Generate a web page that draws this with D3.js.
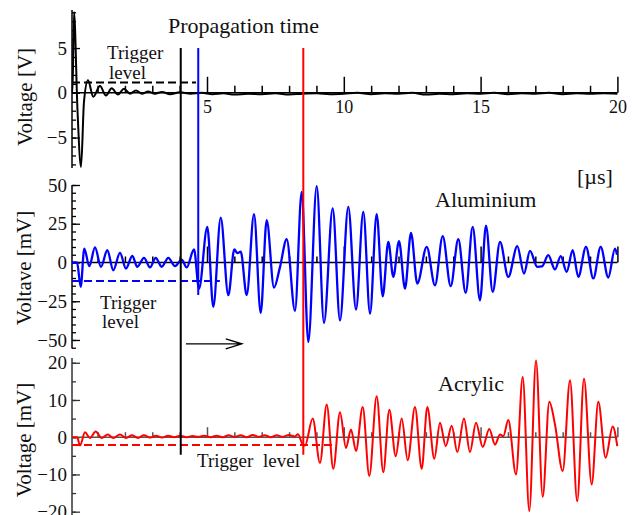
<!DOCTYPE html>
<html><head><meta charset="utf-8">
<script src="https://cdn.jsdelivr.net/npm/d3@7"></script>
<style>
html,body{margin:0;padding:0;background:#fff;}
svg{display:block;font-family:"Liberation Serif","Times New Roman",serif;}
</style></head>
<body>
<svg id="c" width="639" height="515"></svg>
<script>
// ---------- data ----------
// Trigger pulse (top panel), time [µs] and voltage [V]
const trigTime = [0.07,0.084,0.139,0.267,0.395,0.504,0.65,0.844,1.089,1.308,1.517,1.747,1.966,2.186,2.405,2.625,2.844,3.099,3.355,3.648,4.013,4.4,4.8,5.2,5.6,6.0,6.5,7.0,7.5,8.0,8.5,9.0,9.5,10,10.5,11,11.5,12,12.5,13,13.5,14,14.5,15,15.5,16,16.5,17,17.5,18,18.5,19,19.5,20];
const trigVolt = [0,0,9,-2,-8.3,-1,1.4,-0.45,0.75,-0.3,0.5,-0.2,0.45,-0.1,0.25,-0.1,0.15,-0.1,0.1,-0.15,0.05,-0.1,0,-0.15,-0.05,-0.2,-0.1,-0.15,-0.05,-0.2,-0.1,-0.05,-0.15,-0.1,0,-0.15,-0.05,-0.1,0,-0.2,-0.1,-0.15,-0.05,-0.1,0,-0.15,-0.05,-0.1,0,-0.15,-0.05,-0.1,-0.05,-0.1];

// Aluminium (middle panel), time [µs] and voltage [mV]
const aluTime = [0.066,0.249,0.384,0.515,0.698,0.906,1.126,1.356,1.575,1.820,2.039,2.270,2.452,2.697,2.917,3.125,3.344,3.586,3.830,4.075,4.258,4.525,4.708,5.011,5.230,5.501,5.779,5.998,6.115,6.232,6.451,6.718,6.963,7.182,7.449,7.667,7.913,8.216,8.461,8.702,9.010,9.276,9.594,9.861,10.164,10.446,10.713,10.958,11.202,11.422,11.627,11.809,12.018,12.237,12.456,12.686,13.030,13.333,13.615,13.907,14.185,14.455,14.711,14.978,15.197,15.442,15.709,16.012,16.341,16.586,16.805,17.072,17.244,17.474,17.719,17.928,18.147,18.366,18.571,18.852,19.119,19.390,19.667,19.912,19.985];
const aluVolt = [0,0,-15.7,9,-2.4,9.7,-2.8,7.9,-5,6.2,-3.9,4.3,-2.8,3,-3.2,3,-2.8,3,-2.4,1.9,-3.2,8.4,-17,23,-28.7,29,-21.1,8.4,6,7,-21.1,31.2,-32.5,27.3,-16.2,-3,15,-31.2,45.6,-51.3,49.3,-39,34.9,-37.3,35.9,-30.4,32.7,-33,31.2,-21.8,13.3,-9.3,13.8,-16.8,19.1,-13.6,10.1,-14.7,17,-15.3,15,-19.6,23,-24.4,23.7,-19,13.3,-9.3,10.5,-7.1,7.5,-2.8,-2.5,4.7,-4.5,4.1,-6,7.9,-9.3,10.1,-10.3,10.1,-9.7,9,5];

// Acrylic (bottom panel), time [µs] and voltage [mV]
const acrTime = [0.066,0.249,0.358,0.541,0.724,0.932,1.151,1.371,1.575,1.820,2.039,2.259,2.478,2.697,2.917,3.136,3.36,3.58,3.80,4.03,4.25,4.47,4.69,4.91,5.13,5.35,5.57,5.79,6.01,6.23,6.45,6.67,6.89,7.11,7.33,7.55,7.77,7.99,8.21,8.325,8.520,8.582,8.863,9.130,9.375,9.616,9.861,10.080,10.263,10.446,10.691,10.932,11.202,11.444,11.663,11.897,12.116,12.336,12.602,12.847,13.052,13.308,13.516,13.725,13.944,14.148,14.393,14.612,14.832,15.077,15.318,15.526,15.709,15.830,16.012,16.294,16.539,16.780,17.025,17.270,17.511,17.719,18.001,18.268,18.531,18.779,19.060,19.302,19.569,19.828,19.996];
const acrVolt = [0,0,-2.2,1.3,-0.2,1.5,-0.2,0.7,-0.2,0.7,-0.2,0.5,-0.2,0.5,-0.1,0.4,-0.1,0.4,0,0.4,0,0.3,0.1,0.4,0,0.4,0,0.5,0.1,0.5,0,0.6,0.1,0.5,0,0.5,0.1,0.6,0.2,0.8,-2.2,-2.2,5,-6.9,8.8,-8.5,6.7,-2.9,2.1,-3.7,8.1,-10.4,11,-9.4,7.4,-5.1,5,-6.2,8.1,-8.5,8.1,-5.8,3.9,-2.4,3.1,-4,5,-4,3.9,-2.6,2.2,-2,0.7,0.3,4.6,-10,16.2,-19.8,20.6,-16,9.5,3.4,-9.1,15.3,-17.2,15.7,-12.7,9.5,-5.5,2.9,-2.4];

// Markers and trigger levels
const startTime = 4.04, aluArrival = 4.68, acrArrival = 8.52;
const trigLevelV = 1.15, aluLevel = -12, acrLevel = -2.1;

// Tick values
const xMajor = [5,10,15,20];
const xMinor = d3.range(1,20).filter(d => d % 5 !== 0);
const topMajor = [-5,0,5], topMinor = d3.range(-8,10,1);
const midMajor = [-50,-25,0,25,50], midMinor = d3.range(-55,55,5);
const botMajor = [-20,-10,0,10,20], botMinor = d3.range(-20,25,5);

// ---------- scales ----------
const svg = d3.select("#c");
const x = d3.scaleLinear().domain([0,20]).range([70.2,617.4]);
const x0 = 0.066;
const yTop = d3.scaleLinear().domain([-8.4,9.25]).range([168,10]);
const yMid = d3.scaleLinear().domain([-55.5,50]).range([348.5,185]);
const yBot = d3.scaleLinear().domain([-21,21.3]).range([515.4,357.9]);

const font = '"Liberation Serif","Times New Roman",serif';

function yAxis(y, major, minor, color) {
  const g = svg.append("g").attr("transform", `translate(${x(x0)},0)`);
  g.append("line").attr("x1",0).attr("x2",0).attr("y1",y.range()[0]).attr("y2",y.range()[1])
    .attr("stroke",color).attr("stroke-width",1.5);
  const mn = g.append("g").call(d3.axisLeft(y).tickValues(minor).tickSize(-4).tickSizeOuter(0).tickFormat(""));
  mn.select(".domain").remove();
  const mj = g.append("g").call(d3.axisLeft(y).tickValues(major).tickSize(-8).tickSizeOuter(0).tickPadding(5).tickFormat(d3.format("d")));
  mj.select(".domain").remove();
  g.selectAll(".tick line").attr("stroke",color).attr("stroke-width",1.3);
  g.selectAll(".tick text").attr("font-family",font).attr("font-size",19).attr("fill","#111");
}
function xAxis(y0, majorLen, minorLen, color, labels) {
  const g = svg.append("g").attr("transform", `translate(0,${y0})`);
  g.append("line").attr("x1",x(x0)).attr("x2",x(20)).attr("y1",0).attr("y2",0)
    .attr("stroke",color).attr("stroke-width",1.6);
  const mn = g.append("g").call(d3.axisBottom(x).tickValues(xMinor).tickSize(-minorLen).tickSizeOuter(0).tickFormat(""));
  mn.select(".domain").remove();
  const mj = g.append("g").call(d3.axisBottom(x).tickValues(xMajor).tickSize(-majorLen).tickSizeOuter(0).tickPadding(7)
      .tickFormat(labels ? d3.format("d") : ""));
  mj.select(".domain").remove();
  g.selectAll(".tick line").attr("stroke",color).attr("stroke-width",1.5);
  g.selectAll(".tick text").attr("font-family",font).attr("font-size",18).attr("fill","#111");
}

// axes
yAxis(yTop, topMajor, topMinor, "#000");
yAxis(yMid, midMajor, midMinor, "#000");
yAxis(yBot, botMajor, botMinor, "#333");
xAxis(yTop(0), 16, 7, "#000", true);
xAxis(yMid(0), 16, 6, "#000", false);
xAxis(yBot(0), 10, 5, "#555", false);

// trigger level dashed lines
function dashed(y, v, t1, color) {
  svg.append("line").attr("x1",x(x0)).attr("x2",x(t1)).attr("y1",y(v)).attr("y2",y(v))
    .attr("stroke",color).attr("stroke-width",2).attr("stroke-dasharray","8,4");
}
dashed(yTop, trigLevelV, 4.6, "#000");
dashed(yMid, aluLevel, 5.47, "#0000ff");
dashed(yBot, acrLevel, 9.6, "#ff0000");

// signals
function signal(T, V, y, color, w) {
  const pts = T.map((t,i) => [t, V[i]]);
  svg.append("path").datum(pts)
    .attr("d", d3.line().x(d => x(d[0])).y(d => y(d[1])).curve(d3.curveMonotoneX))
    .attr("fill","none").attr("stroke",color).attr("stroke-width",w).attr("stroke-linejoin","round");
}
signal(trigTime, trigVolt, yTop, "#000", 2);
signal(aluTime, aluVolt, yMid, "#0000ff", 2.3);
signal(acrTime, acrVolt, yBot, "#ff0000", 2);

// vertical marker lines
function vline(t, yTopPx, yBotPx, color) {
  svg.append("line").attr("x1",x(t)).attr("x2",x(t)).attr("y1",yTopPx).attr("y2",yBotPx)
    .attr("stroke",color).attr("stroke-width",2);
}
vline(startTime, yTop(5), yBot(-4.7), "#000");
vline(aluArrival, yTop(5), yMid(-21), "#0000ff");
vline(acrArrival, yTop(5), yBot(-4.7), "#ff0000");

// arrow
const ay = yMid(-52.5), ax1 = x(4.23), ax2 = x(6.27);
svg.append("path").attr("d", `M${ax1},${ay}H${ax2}M${ax2-16},${ay-5}L${ax2},${ay}L${ax2-16},${ay+5}`)
  .attr("fill","none").attr("stroke","#000").attr("stroke-width",1.4);

// texts
function txt(s, px, py, size, opts={}) {
  const t = svg.append("text").attr("x",px).attr("y",py).text(s)
    .attr("font-family",font).attr("font-size",size).attr("fill","#111");
  if (opts.anchor) t.attr("text-anchor",opts.anchor);
  if (opts.rotate) t.attr("transform",`rotate(-90,${px},${py})`);
  if (opts.ws) t.attr("word-spacing",opts.ws);
  return t;
}
txt("Propagation time", 168, 33, 22);
txt("Trigger", 107, 59, 19);
txt("level", 109, 79, 19);
txt("[µs]", 577, 184, 22);
txt("Aluminium", 435, 207, 22);
txt("Trigger", 100, 309, 19);
txt("level", 102, 328, 19);
txt("Acrylic", 438, 391, 22);
txt("Trigger level", 197, 467, 19, {ws:5});
txt("Voltage [V]", 32, 97, 21, {anchor:"middle", rotate:true});
txt("Voltave [mV]", 31, 268, 21, {anchor:"middle", rotate:true});
txt("Voltage [mV]", 31, 440, 21, {anchor:"middle", rotate:true});
</script>
</body></html>
